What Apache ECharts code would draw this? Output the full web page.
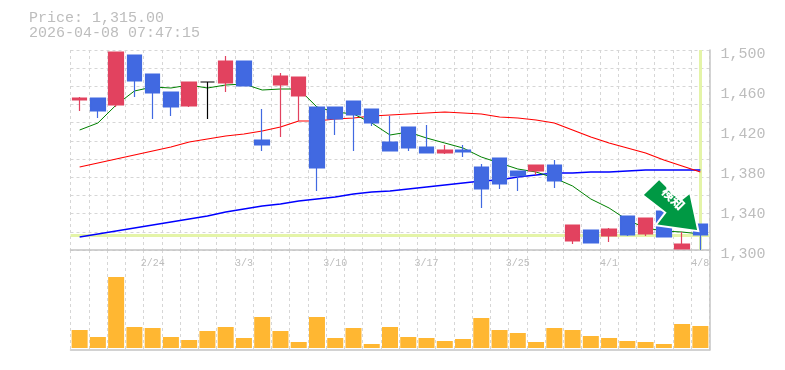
<!DOCTYPE html>
<html><head><meta charset="utf-8">
<style>html,body{margin:0;padding:0;background:#fff}#c{width:785px;height:370px}</style>
<script src="https://cdn.jsdelivr.net/npm/echarts@6/dist/echarts.min.js"></script>
</head><body><div id="c"></div>
<script>
const dates=['2/17','2/18','2/19','2/20','2/24','2/25','2/26','2/27','3/2','3/3','3/4','3/5','3/6','3/9','3/10','3/11','3/12','3/13','3/16','3/17','3/18','3/19','3/23','3/24','3/25','3/26','3/27','3/30','3/31','4/1','4/2','4/3','4/6','4/7','4/8'];
const labelDates=['2/24','3/3','3/10','3/17','3/25','4/1','4/8'];
const opens =[1450,1452,1445,1495,1476,1458,1444,1468,1467,1489,1410,1465,1454,1443,1443,1449,1441,1408,1423,1403,1397,1400,1383,1392,1379,1379,1385,1309,1320,1314,1334,1316,1339,1301,1326];
const closes=[1452,1439,1498,1469,1457,1443,1468,1468,1489,1464,1405,1474,1473,1382,1431,1435,1427,1399,1402,1397,1400,1398,1361,1366,1374,1385,1369,1325,1307,1321,1315,1332,1313,1306,1315];
const lows  =[1439,1432,1443,1453,1431,1434,1443,1431,1458,1464,1399,1413,1429,1359,1415,1399,1424,1399,1399,1397,1396,1393,1342,1361,1359,1375,1362,1306,1307,1308,1314,1314,1313,1301,1300];
const highs =[1453,1452,1498,1495,1476,1458,1468,1468,1494,1489,1441,1477,1473,1443,1443,1449,1441,1434,1423,1425,1405,1405,1386,1392,1379,1385,1390,1325,1320,1322,1334,1332,1339,1318,1326];
const maShort=[1420,1427,1445,1459,1463,1462,1465,1462,1465,1466,1460,1461,1461,1443,1438,1436,1427,1415,1418,1412,1407,1402,1393,1387,1381,1378,1372,1364,1351,1342,1330,1322,1319,1318,1316];
const maMid  =[1383,1387,1391,1395,1399,1403,1408,1411,1414,1416,1419,1423,1429,1429,1431,1432,1434,1435,1436,1437,1438,1437,1436,1433,1432,1430,1427,1420,1413,1407,1402,1397,1390,1384,1378];
const maLong =[1313,1316,1319,1322,1325,1328,1331,1334,1338,1341,1344,1346,1349,1351,1353,1356,1358,1359,1361,1363,1365,1367,1369,1370,1373,1375,1377,1377,1378,1378,1379,1380,1380,1380,1380];
const volumes=[18,11,71,21,20,11,8,17,21,10,31,17,6,31,10,20,4,21,11,10,7,9,30,18,15,6,20,18,12,10,7,6,4,24,22];
const lastPrice=1315;
const priceText='Price: 1,315.00';
const timeText='2026-04-08 07:47:15';
const signalText='検知';

const GREY='#c4c4c4', TXT='#bdbdbd', DASH='#d6d6d6', BAND='#e4f4a8';
const mono='"Liberation Mono",monospace';
const dashed={show:true,interval:0,lineStyle:{color:DASH,width:1,type:[3,3]}};
const band={color:BAND,width:3,type:'solid',opacity:1};
const chart=echarts.init(document.getElementById('c'),null,{renderer:'canvas'});
const maSeries=(name,data,color,width,extra)=>Object.assign({name,type:'line',data,xAxisIndex:0,yAxisIndex:0,symbol:'none',z:3,silent:true,animation:false,lineStyle:{color,width}},extra||{});
chart.setOption({
  animation:false,
  backgroundColor:'#fff',
  title:{left:29,top:10.5,padding:0,text:priceText+'\n'+timeText,textStyle:{fontFamily:mono,fontSize:15,fontWeight:'normal',color:TXT,lineHeight:15}},
  grid:[
    {left:70.5,width:639,top:50,height:200},
    {left:70.5,width:639,top:250,height:100}
  ],
  xAxis:[
    {type:'category',gridIndex:0,data:dates,boundaryGap:true,
     axisLine:{show:true,onZero:false,lineStyle:{color:GREY,width:1.5}},axisTick:{show:false},splitLine:dashed,
     axisLabel:{color:TXT,fontFamily:mono,fontSize:10,margin:8,hideOverlap:false,
       interval:(i,v)=>labelDates.includes(v)}},
    {type:'category',gridIndex:1,data:dates,boundaryGap:true,
     axisLine:{show:true,onZero:false,lineStyle:{color:GREY,width:1.5}},axisTick:{show:false},splitLine:dashed,axisLabel:{show:false}}
  ],
  yAxis:[
    {type:'value',gridIndex:0,position:'right',min:1300,max:1500,interval:40,scale:true,
     axisLine:{show:true,onZero:false,lineStyle:{color:GREY,width:1.5}},axisTick:{show:false},splitLine:{show:false},
     axisLabel:{color:TXT,fontFamily:mono,fontSize:15,margin:11,verticalAlign:'top',lineHeight:9,formatter:v=>v.toLocaleString('en-US')}},
    {type:'value',gridIndex:0,position:'left',min:1300,max:1500,interval:200/11,scale:true,
     axisLine:{show:false},axisTick:{show:false},axisLabel:{show:false},splitLine:{show:true,lineStyle:{color:DASH,width:1,type:[3,3]}}},
    {type:'value',gridIndex:1,position:'right',min:-2,max:98,
     axisLine:{show:true,onZero:false,lineStyle:{color:GREY,width:1.5}},axisTick:{show:false},axisLabel:{show:false},splitLine:{show:false}}
  ],
  series:[
    maSeries('MA long',maLong,'#0000ff',1.3,{markLine:{silent:true,symbol:'none',animation:false,z:1,label:{show:false},lineStyle:band,
      data:[{yAxis:lastPrice-0.5},{xAxis:dates[dates.length-1]}]}}),
    maSeries('MA mid',maMid,'#ff0000',1.2),
    maSeries('MA short',maShort,'#008000',1),
    {name:'Price',type:'candlestick',xAxisIndex:0,yAxisIndex:0,z:4,silent:true,barWidth:15,
     data:dates.map((d,i)=>[opens[i],closes[i],lows[i],highs[i]]),
     itemStyle:{color:'#e2425f',borderColor:'#e2425f',color0:'#4169e1',borderColor0:'#4169e1',borderColorDoji:'#000',borderWidth:1.2},
     markPoint:{silent:true,animation:false,z:6,
       data:[{coord:[32,1345],symbol:'path://M15.7 0L35.7 20.7L44.7 13.3L52.4 50.7L12.4 45L21.4 32.7L0 15.7Z',
         symbolSize:[56,54],symbolOffset:[6.5,0],symbolKeepAspect:true,
         itemStyle:{color:'#009944',borderColor:'#fff',borderWidth:2},
         label:{show:true,formatter:signalText,position:'inside',rotate:-45,offset:[-2.5,-7],color:'#fff',fontSize:13,fontWeight:900,fontFamily:'"Noto Sans CJK JP"'}}]}},
    {name:'Volume',type:'bar',xAxisIndex:1,yAxisIndex:2,data:volumes,barWidth:16,silent:true,itemStyle:{color:'#ffb732'},z:3}
  ]
});
</script></body></html>
